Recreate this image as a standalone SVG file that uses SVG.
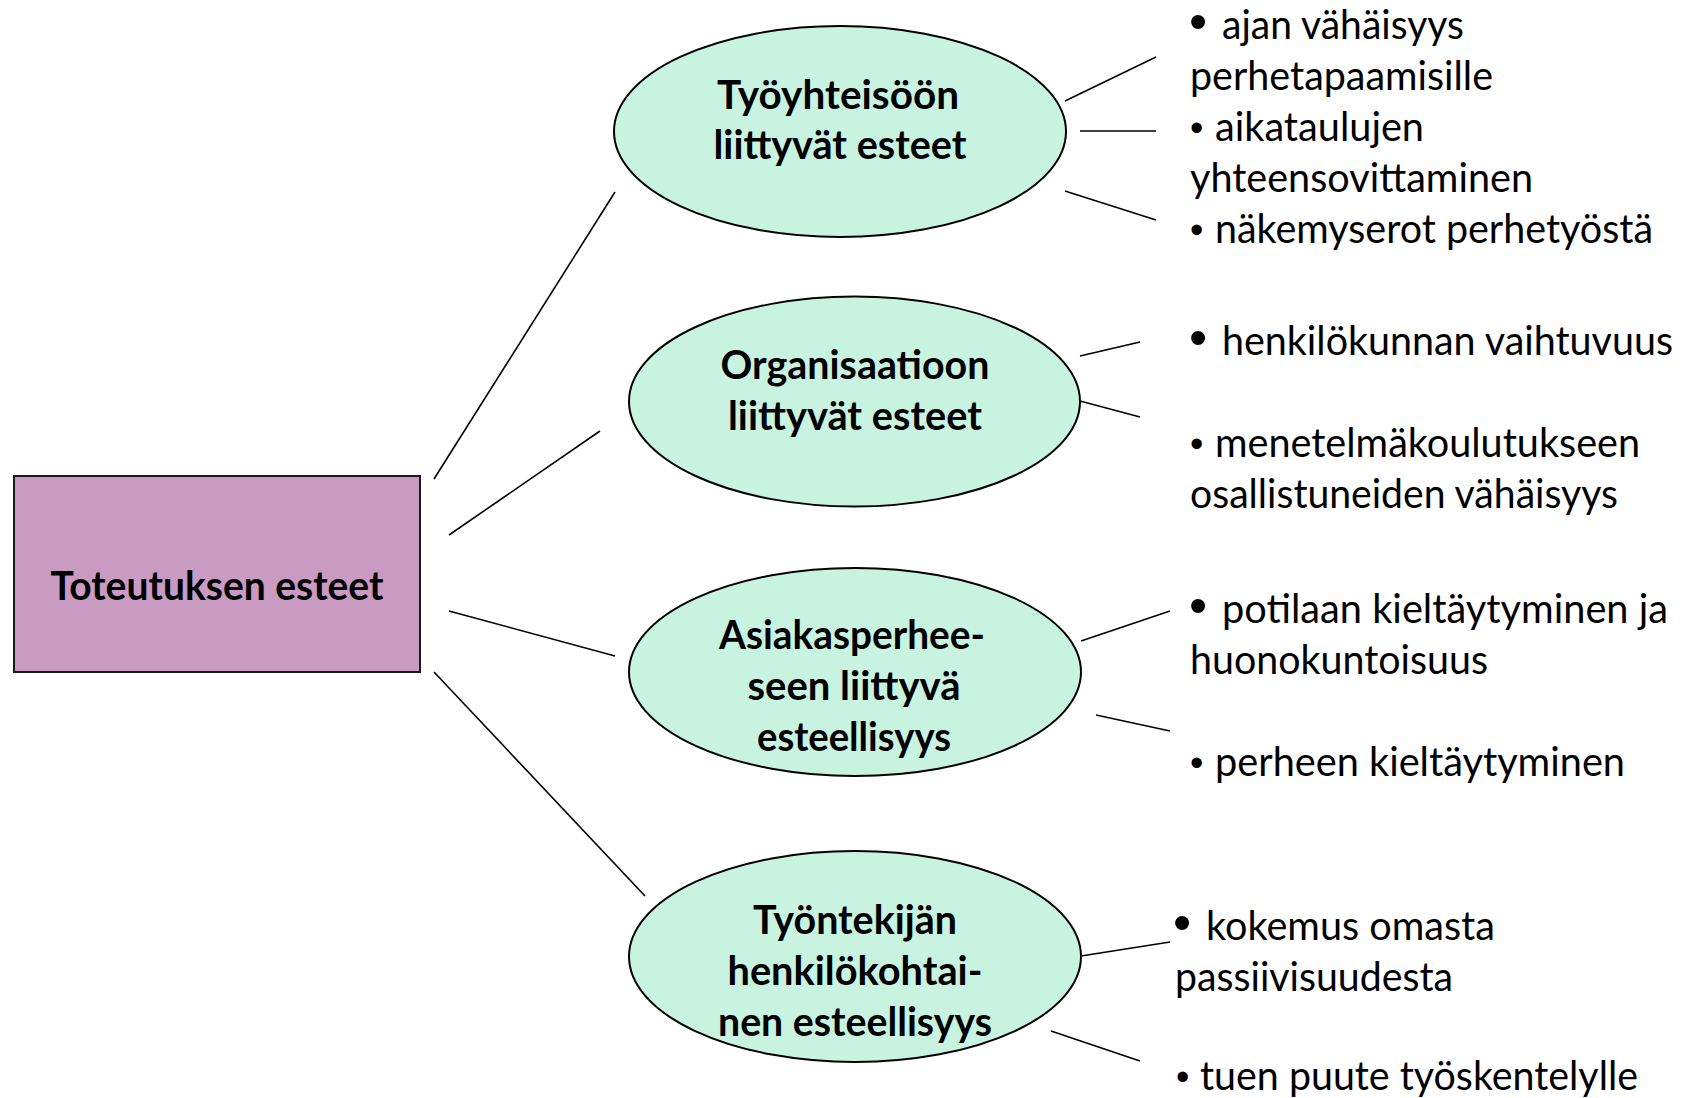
<svg xmlns="http://www.w3.org/2000/svg" width="1686" height="1098" viewBox="0 0 1686 1098">
<style>
.bg{fill:#ffffff}
.root{fill:#C99BC3;stroke:#1a1a1a;stroke-width:2}
.ell{fill:#C9F3E1;stroke:#000;stroke-width:2}
.conn line{stroke:#000;stroke-width:1.6}
.nt{font-family:Lato,"Open Sans","DejaVu Sans",sans-serif;font-weight:bold;font-size:40px;fill:#000;text-anchor:middle}
.it{font-family:Lato,"Open Sans","DejaVu Sans",sans-serif;font-size:40px;fill:#000}
.bl{font-family:"Liberation Sans",Arial,sans-serif;font-size:52px;fill:#000}
.bs{font-family:"Liberation Sans",Arial,sans-serif;font-size:38px;fill:#000}
</style>
<rect class="bg" x="0" y="0" width="1686" height="1098"/>
<g id="connectors" class="conn">
<line x1="434" y1="479" x2="615" y2="192"/>
<line x1="449" y1="535" x2="600" y2="431"/>
<line x1="449" y1="611" x2="615" y2="656"/>
<line x1="434" y1="672" x2="645" y2="896"/>
<line x1="1065" y1="101" x2="1156" y2="57"/>
<line x1="1080" y1="131" x2="1156" y2="131"/>
<line x1="1065" y1="191" x2="1156" y2="220"/>
<line x1="1080" y1="356" x2="1140" y2="342"/>
<line x1="1080" y1="401" x2="1140" y2="417"/>
<line x1="1081" y1="641" x2="1170" y2="611"/>
<line x1="1096" y1="715" x2="1170" y2="731"/>
<line x1="1081" y1="956" x2="1170" y2="942"/>
<line x1="1051" y1="1031" x2="1140" y2="1061"/>
</g>
<g id="root">
<rect class="root" x="14" y="476" width="406" height="196"/>
<text class="nt" x="217" y="600" textLength="333" lengthAdjust="spacingAndGlyphs">Toteutuksen esteet</text>
</g>
<g id="node-tyoyhteiso">
<ellipse class="ell" cx="840" cy="131.5" rx="226" ry="105.5"/>
<text class="nt" x="838" y="109" textLength="242" lengthAdjust="spacingAndGlyphs">Työyhteisöön</text>
<text class="nt" x="840" y="159" textLength="253" lengthAdjust="spacingAndGlyphs">liittyvät esteet</text>
</g>
<g id="node-organisaatio">
<ellipse class="ell" cx="854.5" cy="401.5" rx="225.5" ry="105"/>
<text class="nt" x="855" y="379" textLength="269" lengthAdjust="spacingAndGlyphs">Organisaatioon</text>
<text class="nt" x="855" y="430" textLength="254" lengthAdjust="spacingAndGlyphs">liittyvät esteet</text>
</g>
<g id="node-asiakasperhe">
<ellipse class="ell" cx="855" cy="672" rx="226" ry="104"/>
<text class="nt" x="852" y="649" textLength="266" lengthAdjust="spacingAndGlyphs">Asiakasperhee-</text>
<text class="nt" x="854" y="700" textLength="213" lengthAdjust="spacingAndGlyphs">seen liittyvä</text>
<text class="nt" x="854" y="751" textLength="194" lengthAdjust="spacingAndGlyphs">esteellisyys</text>
</g>
<g id="node-tyontekija">
<ellipse class="ell" cx="855" cy="956.5" rx="226" ry="105.5"/>
<text class="nt" x="855" y="934" textLength="204" lengthAdjust="spacingAndGlyphs">Työntekijän</text>
<text class="nt" x="855" y="985" textLength="255" lengthAdjust="spacingAndGlyphs">henkilökohtai-</text>
<text class="nt" x="855" y="1036" textLength="274" lengthAdjust="spacingAndGlyphs">nen esteellisyys</text>
</g>
<g id="items-tyoyhteiso">
<text class="bl" x="1189" y="39">•</text>
<text class="it" x="1222" y="39" textLength="242" lengthAdjust="spacingAndGlyphs">ajan vähäisyys</text>
<text class="it" x="1190" y="90" textLength="303" lengthAdjust="spacingAndGlyphs">perhetapaamisille</text>
<text class="bs" x="1190" y="141">•</text>
<text class="it" x="1215" y="141" textLength="209" lengthAdjust="spacingAndGlyphs">aikataulujen</text>
<text class="it" x="1190" y="192" textLength="343" lengthAdjust="spacingAndGlyphs">yhteensovittaminen</text>
<text class="bs" x="1190" y="243">•</text>
<text class="it" x="1215" y="243" textLength="438" lengthAdjust="spacingAndGlyphs">näkemyserot perhetyöstä</text>
</g>
<g id="items-organisaatio">
<text class="bl" x="1189" y="355">•</text>
<text class="it" x="1222" y="355" textLength="451" lengthAdjust="spacingAndGlyphs">henkilökunnan vaihtuvuus</text>
<text class="bs" x="1190" y="457">•</text>
<text class="it" x="1215" y="457" textLength="425" lengthAdjust="spacingAndGlyphs">menetelmäkoulutukseen</text>
<text class="it" x="1190" y="508" textLength="428" lengthAdjust="spacingAndGlyphs">osallistuneiden vähäisyys</text>
</g>
<g id="items-asiakasperhe">
<text class="bl" x="1189" y="623">•</text>
<text class="it" x="1222" y="623" textLength="446" lengthAdjust="spacingAndGlyphs">potilaan kieltäytyminen ja</text>
<text class="it" x="1190" y="674" textLength="298" lengthAdjust="spacingAndGlyphs">huonokuntoisuus</text>
<text class="bs" x="1190" y="776">•</text>
<text class="it" x="1215" y="776" textLength="410" lengthAdjust="spacingAndGlyphs">perheen kieltäytyminen</text>
</g>
<g id="items-tyontekija">
<text class="bl" x="1173" y="940">•</text>
<text class="it" x="1206" y="940" textLength="289" lengthAdjust="spacingAndGlyphs">kokemus omasta</text>
<text class="it" x="1175" y="991" textLength="278" lengthAdjust="spacingAndGlyphs">passiivisuudesta</text>
<text class="bs" x="1176" y="1090">•</text>
<text class="it" x="1200" y="1090" textLength="438" lengthAdjust="spacingAndGlyphs">tuen puute työskentelylle</text>
</g>
</svg>
